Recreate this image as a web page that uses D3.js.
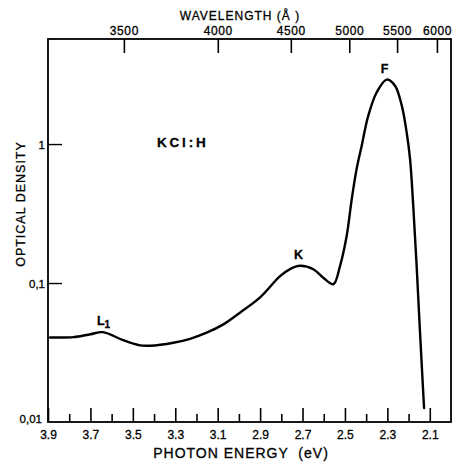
<!DOCTYPE html>
<html>
<head>
<meta charset="utf-8">
<script src="https://cdn.jsdelivr.net/npm/d3@7"></script>
<style>
  body { margin: 0; background: #fff; }
  svg { display: block; }
  text { font-family: "Liberation Sans", Arial, sans-serif; fill: #000; stroke: #000; stroke-width: 0.3px; }
</style>
</head>
<body>
<svg id="chart" width="465" height="466"></svg>
<script>
// ---- data ----
const energyTicks = [3.9, 3.8, 3.7, 3.6, 3.5, 3.4, 3.3, 3.2, 3.1, 3.0, 2.9, 2.8, 2.7, 2.6, 2.5, 2.4, 2.3, 2.2, 2.1];
const energyLabels = [3.9, 3.7, 3.5, 3.3, 3.1, 2.9, 2.7, 2.5, 2.3, 2.1];
const wavelengthTicks = [3500, 4000, 4500, 5000, 5500, 6000];
const densityTicks = [0.01, 0.1, 1];
const densityLabels = ["0,01", "0,1", "1"];

const energy = [3.89, 3.78, 3.70, 3.641, 3.546, 3.466, 3.419, 3.309, 3.230, 3.152, 3.073, 2.995, 2.90, 2.806, 2.759, 2.712, 2.649, 2.602, 2.555, 2.523, 2.492, 2.468, 2.445, 2.421, 2.390, 2.350, 2.303, 2.264, 2.232, 2.209, 2.193, 2.178, 2.162, 2.146, 2.127];
const density = [0.0406, 0.0408, 0.0428, 0.0443, 0.0388, 0.0356, 0.0354, 0.0372, 0.0397, 0.0439, 0.0504, 0.0612, 0.0788, 0.112, 0.126, 0.133, 0.1256, 0.109, 0.098, 0.133, 0.218, 0.401, 0.661, 0.972, 1.60, 2.36, 2.91, 2.63, 1.89, 1.21, 0.780, 0.359, 0.133, 0.0439, 0.0126];

const peakLabels = [
  { name: "L", sub: "1", e: 3.641, v: 0.0443 },
  { name: "K", sub: "", e: 2.712, v: 0.133 },
  { name: "F", sub: "", e: 2.303, v: 2.91 }
];

// ---- layout ----
const mLeft = 48, mRight = 451, mTop = 39, mBottom = 422;
const svg = d3.select("#chart");

const x = d3.scaleLinear().domain([3.9, 2.0]).range([mLeft, mRight]);
const y = d3.scaleLog().domain([0.01, 5.7]).range([mBottom, mTop]);
const HC = 12398; // eV·Å

// frame
svg.append("rect")
  .attr("x", mLeft).attr("y", mTop)
  .attr("width", mRight - mLeft).attr("height", mBottom - mTop)
  .attr("fill", "none").attr("stroke", "#000").attr("stroke-width", 1.8);

// bottom axis (ticks inward)
const gB = svg.append("g").attr("transform", `translate(0,${mBottom})`);
gB.call(d3.axisBottom(x).tickValues(energyTicks).tickSize(0).tickFormat(""));
gB.select(".domain").remove();
gB.selectAll(".tick").each(function(d) {
  const major = energyLabels.some(v => Math.abs(v - d) < 1e-6);
  d3.select(this).append("line")
    .attr("y1", 0).attr("y2", major ? -14 : -8)
    .attr("stroke", "#000").attr("stroke-width", 1.6);
  if (major) {
    d3.select(this).append("text")
      .attr("y", 17).attr("text-anchor", "middle")
      .attr("font-size", 12)
      .text(d3.format(".1f")(d));
  }
});

// top axis (wavelength)
const gT = svg.append("g").attr("transform", `translate(0,${mTop})`);
gT.call(d3.axisTop(x).tickValues(wavelengthTicks.map(w => HC / w)).tickSize(0).tickFormat(""));
gT.select(".domain").remove();
gT.selectAll(".tick").each(function(d, i) {
  d3.select(this).append("line")
    .attr("y1", 0).attr("y2", 14)
    .attr("stroke", "#000").attr("stroke-width", 1.6);
  d3.select(this).append("text")
    .attr("y", -4).attr("text-anchor", "middle")
    .attr("font-size", 12).attr("letter-spacing", 0.6)
    .text(wavelengthTicks[i]);
});

// left axis
const gL = svg.append("g").attr("transform", `translate(${mLeft},0)`);
gL.call(d3.axisLeft(y).tickValues(densityTicks).tickSize(0).tickFormat(""));
gL.select(".domain").remove();
gL.selectAll(".tick").each(function(d, i) {
  if (i > 0) {
    d3.select(this).append("line")
      .attr("x1", 0).attr("x2", 14)
      .attr("stroke", "#000").attr("stroke-width", 1.4);
  }
  d3.select(this).append("text")
    .attr("x", i === 0 ? -6 : -3).attr("dy", i === 0 ? "0.0em" : "0.35em")
    .attr("text-anchor", "end")
    .attr("font-size", 11.5)
    .text(densityLabels[i]);
});

// axis titles
svg.append("text")
  .attr("x", 240).attr("y", 20).attr("text-anchor", "middle")
  .attr("font-size", 12).attr("letter-spacing", 1)
  .text("WAVELENGTH (Å )");
svg.append("text")
  .attr("x", 241).attr("y", 458).attr("text-anchor", "middle")
  .attr("font-size", 14).attr("letter-spacing", 1)
  .attr("xml:space", "preserve")
  .text("PHOTON ENERGY  (eV)");
svg.append("text")
  .attr("transform", "translate(25,204) rotate(-90)")
  .attr("text-anchor", "middle")
  .attr("font-size", 12.5).attr("letter-spacing", 1)
  .text("OPTICAL DENSITY");

// sample label
svg.append("text")
  .attr("x", 157).attr("y", 147)
  .attr("font-size", 13.5).attr("font-weight", "bold").attr("letter-spacing", 2.8)
  .text("KCl:H");

// curve
const pts = energy.map((e, i) => [e, density[i]]);
const line = d3.line()
  .x(d => x(d[0])).y(d => y(d[1]))
  .curve(d3.curveCatmullRom.alpha(0.5));
svg.append("path")
  .datum(pts)
  .attr("d", line)
  .attr("fill", "none").attr("stroke", "#000").attr("stroke-width", 2.4)
  .attr("stroke-linejoin", "round").attr("stroke-linecap", "round");

// peak labels
peakLabels.forEach(p => {
  const t = svg.append("text")
    .attr("x", x(p.e) - 6).attr("y", y(p.v) - 7)
    .attr("font-size", 12.5).attr("font-weight", "bold");
  t.append("tspan").text(p.name);
  if (p.sub) {
    t.append("tspan").attr("dy", 3).attr("font-size", 10).text(p.sub);
  }
});
</script>
</body>
</html>
